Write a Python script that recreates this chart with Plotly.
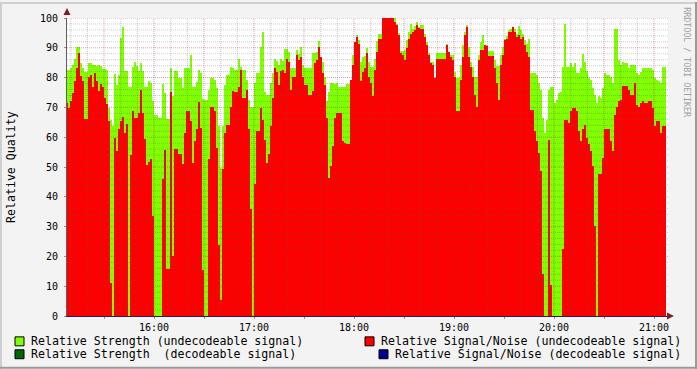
import pandas as pd
import plotly.graph_objects as go

# Relative Strength (undecodeable signal) - green area, one value per 72 s
strength = [
    82.6, 82.6, 83.3, 84.2, 86.4, 90.3, 90.3, 85.0, 83.3, 81.8,
    81.8, 84.9, 84.9, 84.2, 84.2, 84.0, 84.2, 83.9, 82.9, 82.9,
    82.6, 69.8, 65.9, 63.7, 81.3, 77.6, 81.0, 93.3, 97.0, 82.2,
    82.2, 77.0, 77.0, 83.6, 85.3, 83.8, 82.2, 85.0, 82.2, 76.7,
    76.7, 79.0, 78.3, 72.3, 67.3, 67.3, 66.4, 66.4, 77.8, 75.0,
    # 16:08 ..
    66.2, 66.2, 83.3, 73.7, 82.2, 82.2, 79.8, 79.8, 76.4, 83.3,
    83.3, 83.3, 87.6, 77.0, 77.0, 78.4, 82.6, 81.4, 72.9, 72.6,
    72.6, 75.9, 80.0, 80.0, 79.2, 76.4, 63.7, 49.8, 63.7, 77.6,
    80.9, 80.9, 83.7, 83.1, 82.6, 82.6, 86.4, 83.7, 82.6, 82.6,
    79.2, 72.6, 70.3, 70.3, 78.1, 81.4, 81.4, 90.3, 95.3, 75.3,
    # 17:08 ..
    74.2, 74.2, 78.1, 81.4, 86.4, 85.6, 84.2, 86.4, 85.6, 89.6,
    89.6, 88.7, 83.3, 83.3, 83.3, 89.2, 87.8, 90.3, 84.2, 83.3,
    83.3, 83.1, 83.1, 88.4, 88.4, 88.7, 92.2, 85.6, 85.3, 80.3,
    72.0, 75.3, 78.1, 78.1, 77.8, 78.1, 76.7, 76.7, 76.7, 76.7,
    77.8, 77.8, 79.2, 87.6, 92.0, 94.2, 92.6, 85.3, 87.0, 87.2,
    # 18:08 ..
    90.0, 85.3, 83.7, 83.7, 86.4, 92.2, 94.8, 94.8, 100, 100,
    100, 100, 100, 100, 100, 98.1, 95.1, 88.9, 88.9, 89.2,
    92.6, 95.3, 98.0, 96.4, 97.3, 98.7, 97.0, 97.5, 97.5, 94.8,
    92.0, 88.1, 85.3, 85.3, 80.3, 88.1, 88.1, 88.1, 88.1, 88.1,
    91.4, 88.7, 87.6, 87.6, 82.0, 80.0, 80.0, 84.2, 91.0, 95.3,
    # 19:08 ..
    97.6, 90.3, 85.3, 83.7, 80.3, 80.3, 87.6, 91.8, 94.4, 90.9,
    90.9, 88.9, 88.9, 88.9, 85.9, 84.0, 84.0, 87.6, 90.3, 93.1,
    94.0, 95.9, 96.4, 96.4, 96.4, 94.8, 97.3, 96.0, 94.8, 92.6,
    91.4, 93.1, 81.4, 81.4, 81.4, 80.9, 78.1, 75.9, 66.4, 61.4,
    65.9, 75.9, 76.7, 76.7, 71.4, 72.6, 74.8, 75.3, 83.7, 98.1,
    # 20:08 ..
    83.7, 83.7, 84.8, 83.7, 84.8, 81.4, 81.4, 83.1, 87.8, 85.3,
    82.2, 80.0, 79.2, 76.4, 74.2, 71.4, 73.7, 73.3, 76.4, 81.4,
    80.9, 80.9, 80.3, 78.1, 96.4, 96.4, 85.9, 84.2, 85.3, 84.8,
    84.8, 83.1, 84.2, 84.2, 84.2, 81.4, 80.9, 82.0, 83.1, 83.1,
    83.1, 83.1, 83.1, 82.6, 79.8, 79.2, 78.7, 78.1, 83.7, 83.7,
]

# Relative Signal/Noise (undecodeable signal) - red area
snr = [
    71.4, 69.8, 72.2, 75.0, 78.7, 83.3, 88.3, 80.7, 78.7, 66.1,
    66.1, 80.3, 81.0, 77.0, 81.7, 78.7, 75.6, 78.0, 76.7, 73.0,
    71.3, 65.6, 11.0, 0, 59.8, 55.3, 62.8, 65.6, 66.8, 61.3,
    64.4, 0, 54.0, 68.9, 66.3, 66.5, 68.0, 75.8, 68.0, 59.5,
    50.6, 51.7, 52.8, 33.5, 0, 0, 0, 0, 46.0, 55.6,
    # 16:08 ..
    15.9, 15.9, 75.3, 20.3, 55.9, 55.9, 54.2, 54.2, 50.9, 61.4,
    68.7, 68.7, 65.3, 51.4, 58.7, 62.6, 71.8, 63.1, 15.6, 0,
    0, 52.6, 70.3, 70.3, 68.7, 56.4, 23.7, 5.3, 49.2, 61.4,
    64.2, 64.2, 70.3, 75.6, 75.3, 75.3, 77.0, 82.6, 73.3, 73.3,
    75.9, 62.6, 36.0, 0, 44.2, 62.0, 62.0, 69.8, 65.9, 59.2,
    # 17:08 ..
    51.4, 54.2, 63.7, 73.3, 83.1, 82.0, 77.6, 82.2, 82.6, 81.4,
    86.4, 85.3, 75.9, 80.3, 80.3, 87.6, 85.9, 87.0, 80.3, 77.6,
    77.6, 74.2, 74.2, 75.6, 84.8, 85.9, 90.3, 87.0, 81.4, 77.6,
    66.4, 46.4, 50.3, 57.0, 66.4, 68.1, 68.1, 68.1, 58.7, 58.1,
    57.6, 57.6, 79.2, 84.2, 92.0, 93.7, 91.4, 78.7, 82.0, 83.1,
    # 18:08 ..
    88.1, 80.3, 78.1, 73.7, 82.6, 88.7, 93.1, 93.1, 100, 100,
    100, 100, 100, 100, 98.7, 97.6, 94.2, 88.1, 87.6, 85.9,
    89.8, 93.1, 94.8, 95.3, 95.9, 97.6, 96.7, 96.4, 96.4, 93.7,
    91.0, 87.6, 84.8, 84.2, 80.0, 86.4, 86.4, 86.4, 86.4, 86.4,
    90.9, 88.7, 87.0, 85.9, 80.3, 68.7, 68.7, 79.2, 87.0, 94.2,
    # 19:08 ..
    97.0, 87.0, 83.7, 80.3, 74.2, 70.3, 85.9, 89.2, 89.2, 90.9,
    90.7, 87.3, 87.3, 87.3, 83.1, 78.1, 72.6, 84.2, 87.6, 92.6,
    93.1, 95.3, 95.3, 97.0, 95.3, 93.7, 94.4, 93.1, 93.7, 90.9,
    88.7, 87.0, 69.2, 69.2, 62.0, 58.7, 54.8, 48.7, 14.2, 0,
    0, 59.2, 10.3, 0, 0, 0, 0, 0, 22.6, 65.9,
    # 20:08 ..
    65.9, 64.8, 68.9, 69.8, 69.8, 68.9, 62.0, 58.7, 62.6, 64.2,
    59.8, 57.6, 55.3, 50.3, 30.3, 0, 47.6, 47.6, 53.1, 62.6,
    62.6, 62.6, 58.7, 55.3, 67.6, 70.3, 72.0, 72.6, 77.3, 77.3,
    77.3, 75.9, 74.2, 74.2, 78.1, 70.9, 70.3, 71.4, 72.0, 71.4,
    71.4, 72.0, 72.0, 69.8, 63.7, 65.3, 65.3, 61.4, 63.7, 63.7,
]

hour_labels = ["16:00", "17:00", "18:00", "19:00", "20:00", "21:00"]
legend_labels = [
    "Relative Strength (undecodeable signal)",
    "Relative Signal/Noise (undecodeable signal)",
    "Relative Strength  (decodeable signal)",
    "Relative Signal/Noise (decodeable signal)",
]
legend_colors = ["#7FFF00", "#FF0000", "#006600", "#000090"]

DAY = "2024-01-01 "
start = pd.Timestamp(DAY + "15:07:12")
step = pd.Timedelta(seconds=72)
times = [start + i * step for i in range(len(strength))]
# bar centres (each sample covers one 72 s step)
centres = [t + step / 2 for t in times]
bar_w = step.total_seconds() * 1000

x_lo = pd.Timestamp(DAY + "15:07:48")
x_hi = pd.Timestamp(DAY + "21:08:24")

W, H = 697, 369
ML, MR, MT, MB = 67, 29, 16, 53
PW = W - ML - MR
PH = H - MT - MB

def px(X):
    return (X - ML) / PW

def py(Y):
    return (H - MB - Y) / PH

FONT = "DejaVu Sans Mono"

fig = go.Figure()
fig.add_trace(go.Bar(x=centres, y=strength, width=bar_w,
                     marker=dict(color="#7FFF00", line=dict(width=0)),
                     hoverinfo="skip", showlegend=False))
fig.add_trace(go.Bar(x=centres, y=snr, width=bar_w,
                     marker=dict(color="#FF0000", line=dict(width=0)),
                     hoverinfo="skip", showlegend=False))

shapes = []
minor_col = "rgba(90,90,90,0.32)"
major_col = "rgba(170,40,40,0.45)"
# horizontal grid
for v in range(2, 101, 2):
    major = v % 10 == 0
    shapes.append(dict(type="line", xref="paper", yref="y", x0=0, x1=1, y0=v, y1=v,
                       line=dict(color=major_col if major else minor_col, width=1, dash="1px,1px"),
                       layer="above"))
# vertical grid
t = pd.Timestamp(DAY + "15:10")
while t <= x_hi:
    major = t.minute % 30 == 0
    shapes.append(dict(type="line", xref="x", yref="paper", x0=t, x1=t, y0=0, y1=1,
                       line=dict(color=major_col if major else minor_col, width=1, dash="1px,1px"),
                       layer="above"))
    t += pd.Timedelta(minutes=10)

# axis arrows
shapes.append(dict(type="path", xref="paper", yref="paper",
                   path=f"M {px(63.5)} {py(13)} L {px(70.5)} {py(13)} L {px(67)} {py(6)} Z",
                   fillcolor="#7F1F1F", line=dict(width=0), layer="above"))
shapes.append(dict(type="path", xref="paper", yref="paper",
                   path=f"M {px(667)} {py(312.5)} L {px(667)} {py(319.5)} L {px(674)} {py(316)} Z",
                   fillcolor="#7F1F1F", line=dict(width=0), layer="above"))

# outer 3D border
shapes.append(dict(type="rect", xref="paper", yref="paper", x0=px(0), x1=px(W), y0=py(0), y1=py(2),
                   fillcolor="#CFCFCF", line=dict(width=0), layer="below"))
shapes.append(dict(type="rect", xref="paper", yref="paper", x0=px(0), x1=px(2), y0=py(0), y1=py(H),
                   fillcolor="#CFCFCF", line=dict(width=0), layer="below"))
shapes.append(dict(type="rect", xref="paper", yref="paper", x0=px(W - 2), x1=px(W), y0=py(0), y1=py(H),
                   fillcolor="#9A9A9A", line=dict(width=0), layer="below"))
shapes.append(dict(type="rect", xref="paper", yref="paper", x0=px(0), x1=px(W), y0=py(H - 2), y1=py(H),
                   fillcolor="#9A9A9A", line=dict(width=0), layer="below"))

annotations = []
# legend
leg_pos = [(15, 341.5), (365, 341.5), (15, 354.5), (379, 354.5)]
for (lx, ly), lab, col in zip(leg_pos, legend_labels, legend_colors):
    shapes.append(dict(type="rect", xref="paper", yref="paper",
                       x0=px(lx), x1=px(lx + 9), y0=py(ly - 4.5), y1=py(ly + 4.5),
                       fillcolor=col, line=dict(color="#000000", width=1)))
    annotations.append(dict(xref="paper", yref="paper", x=px(lx + 14), y=py(ly), text=lab,
                            showarrow=False, xanchor="left", yanchor="middle",
                            font=dict(family=FONT, size=11.6, color="#000000")))

annotations.append(dict(xref="paper", yref="paper", x=px(11), y=py(166), text="Relative Quality",
                        textangle=-90, showarrow=False, xanchor="center", yanchor="middle",
                        font=dict(family=FONT, size=11.6, color="#000000")))
annotations.append(dict(xref="paper", yref="paper", x=px(687.5), y=py(60), text="RRDTOOL / TOBI OETIKER",
                        textangle=90, showarrow=False, xanchor="center", yanchor="middle",
                        font=dict(family=FONT, size=8.3, color="#A0A0A0")))

tickvals = []
ticktext = []
for h in range(15, 22):
    for m in (0, 30):
        tt = pd.Timestamp(DAY + f"{h:02d}:{m:02d}")
        if x_lo <= tt <= x_hi:
            tickvals.append(tt)
            lab = f"{h:02d}:00"
            ticktext.append(lab if (m == 0 and lab in hour_labels) else "")

fig.update_layout(
    width=W, height=H,
    margin=dict(l=ML, r=MR, t=MT, b=MB, pad=0),
    paper_bgcolor="#F3F3F3",
    plot_bgcolor="#FFFFFF",
    showlegend=False,
    barmode="overlay",
    bargap=0,
    shapes=shapes,
    annotations=annotations,
    xaxis=dict(range=[x_lo, x_hi], showgrid=False, zeroline=False,
               tickvals=tickvals, ticktext=ticktext,
               ticks="outside", ticklen=2, tickcolor="#C08080",
               showline=True, linecolor="#202060", linewidth=1, layer="above traces",
               tickfont=dict(family=FONT, size=10, color="#000000")),
    yaxis=dict(range=[0, 100], showgrid=False, zeroline=False,
               tickvals=list(range(0, 101, 10)),
               ticks="outside", ticklen=2, tickcolor="#C08080",
               showline=True, linecolor="#606060", linewidth=1, layer="above traces",
               ticklabelstandoff=4,
               tickfont=dict(family=FONT, size=10, color="#000000")),
)

fig.write_html("out.html")
